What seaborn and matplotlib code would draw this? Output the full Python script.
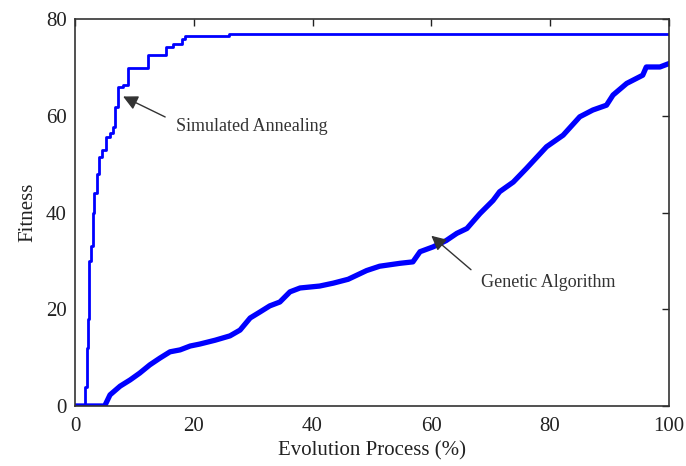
import numpy as np
import pandas as pd
import matplotlib
matplotlib.use("Agg")
import matplotlib.pyplot as plt
import seaborn as sns

# Simulated annealing (step curve, value holds until next x)
sa_x = [0, 1.5, 1.7, 2.0, 2.2, 2.4, 2.7, 3.0, 3.25, 3.65, 4.1, 4.6, 5.2, 5.9, 6.45,
        6.7, 7.3, 8.1, 9.0, 12.3, 15.4, 16.5, 18.0, 18.5, 26.0, 100]
sa_y = [0, 0, 4, 12, 18, 30, 33, 40, 44, 48, 51.5, 53, 55.6, 56.4, 57.7,
        61.8, 66.0, 66.3, 69.8, 72.5, 74.2, 74.9, 75.9, 76.6, 77.0, 77.0]

# Genetic algorithm
ga_x = [0, 5.0, 5.9, 7.6, 9.3, 10.9, 12.6, 14.3, 16.0, 17.7, 19.4, 21.0, 23.6, 26.1,
        27.8, 29.5, 31.1, 32.8, 34.5, 36.2, 37.9, 41.2, 43.5, 46.0, 49.1, 51.3, 54.7,
        56.9, 58.1, 60.3, 62.5, 64.3, 66.0, 68.2, 70.4, 71.5, 73.8, 76.0, 79.4, 82.2,
        85.0, 87.2, 89.5, 90.6, 92.9, 95.6, 96.2, 98.5, 100]
ga_y = [0, 0, 2.3, 4.1, 5.4, 6.8, 8.5, 9.9, 11.2, 11.6, 12.4, 12.8, 13.6, 14.5,
        15.7, 18.2, 19.4, 20.7, 21.5, 23.6, 24.4, 24.8, 25.4, 26.2, 28.0, 28.9, 29.5,
        29.8, 31.9, 32.9, 34.2, 35.7, 36.7, 39.8, 42.5, 44.3, 46.3, 49.1, 53.6, 56.0,
        59.8, 61.2, 62.2, 64.3, 66.7, 68.4, 70.1, 70.1, 70.8]

x_ticks = [0, 20, 40, 60, 80, 100]
y_ticks = [0, 20, 40, 60, 80]

sns.set_theme(style="white")
plt.rcParams['font.family'] = ['Liberation Serif', 'DejaVu Serif']

fig = plt.figure(figsize=(6.86, 4.66), dpi=100)
ax = fig.add_axes([0.1093, 0.1288, 0.8657, 0.8302])

sns.lineplot(x=sa_x, y=sa_y, ax=ax, color='#0000ff', linewidth=2.0,
             drawstyle='steps-post', sort=False, estimator=None)
sns.lineplot(x=ga_x, y=ga_y, ax=ax, color='#0000ff', linewidth=3.8,
             sort=False, estimator=None)

ax.set_xlim(0, 100)
ax.set_ylim(0, 80)
ax.set_xticks(x_ticks)
ax.set_yticks(y_ticks)
ax.tick_params(direction='in', length=5, width=1, top=True, right=True,
               labelsize=15, colors='#222222')
ax.tick_params(axis='x', pad=8)
ax.tick_params(axis='y', pad=6)
for s in ax.spines.values():
    s.set_color('#333333')
    s.set_linewidth(1.2)

ax.set_xlabel('Evolution Process (%)', fontsize=15, color='#222222', labelpad=4)
ax.set_ylabel('Fitness', fontsize=15, color='#222222', labelpad=6)

ax.annotate('Simulated Annealing', xy=(8.1, 64.0), xytext=(17.0, 57.8),
            fontsize=13, color='#333333', va='center', ha='left',
            arrowprops=dict(arrowstyle='-|>', color='#333333', lw=1.0,
                            mutation_scale=22, shrinkA=6, shrinkB=0,
                            relpos=(0, 0.75)))
ax.annotate('Genetic Algorithm', xy=(60.0, 35.2), xytext=(68.3, 25.6),
            fontsize=13, color='#333333', va='center', ha='left',
            arrowprops=dict(arrowstyle='-|>', color='#333333', lw=1.0,
                            mutation_scale=22, shrinkA=6, shrinkB=0,
                            relpos=(0, 0.75)))

fig.savefig('out.png', dpi=100)
